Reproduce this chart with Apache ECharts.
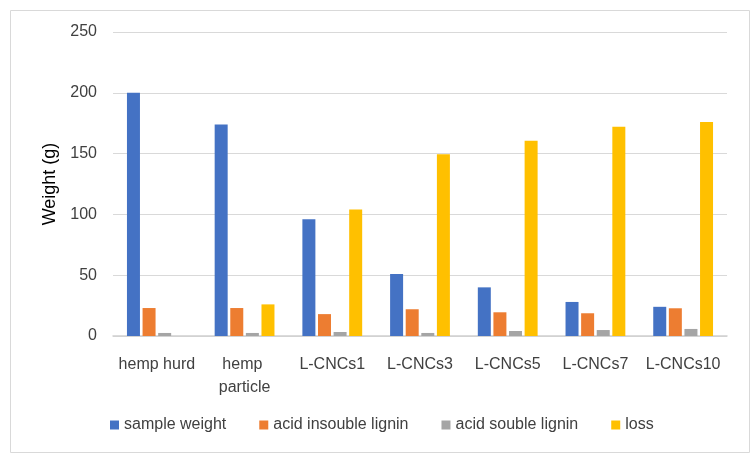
<!DOCTYPE html>
<html><head><meta charset="utf-8">
<script src="https://cdn.jsdelivr.net/npm/echarts@6/dist/echarts.min.js"></script>
<style>html,body{margin:0;padding:0;background:#fff}#c{width:756px;height:463px}</style>
</head><body><div id="c"></div>
<script>
const categories = ['hemp hurd','hemp particle','L-CNCs1','L-CNCs3','L-CNCs5','L-CNCs7','L-CNCs10'];
const seriesNames = ['sample weight','acid insouble lignin','acid souble lignin','loss'];
const sampleWeight = [200, 174, 96, 51, 40, 28, 24];
const acidInsoluble = [23, 23, 18, 22, 19.5, 18.7, 22.8];
const acidSoluble = [2.5, 2.5, 3.3, 2.5, 4.1, 4.9, 5.8];
const loss = [0, 26, 104, 149.5, 160.5, 172, 176];
const yTicks = [0, 50, 100, 150, 200, 250];
const colors = ['#4472C4','#ED7D31','#A5A5A5','#FFC000'];
const font = "'Liberation Sans',sans-serif";
const chart = echarts.init(document.getElementById('c'));
const dataSets = [sampleWeight, acidInsoluble, acidSoluble, loss];
chart.setOption({
  animation:false,
  color: colors,
  graphic:[{type:'rect',shape:{x:10.5,y:10.5,width:739,height:442},style:{fill:'none',stroke:'#D9D9D9',lineWidth:1}}],
  grid:{left:113,right:29,top:32,bottom:127},
  legend:{bottom:25,left:105,itemWidth:9,itemHeight:9,itemGap:33,icon:'rect',
    textStyle:{fontFamily:font,fontSize:16,color:'#404040'},data:seriesNames},
  xAxis:{type:'category',data:categories,
    axisLine:{lineStyle:{color:'#D0D0D0',width:1.5}},axisTick:{show:false},
    axisLabel:{fontFamily:font,fontSize:16,color:'#404040',margin:17,lineHeight:23,width:86,overflow:'break',interval:0}},
  yAxis:{type:'value',min:yTicks[0],max:yTicks[yTicks.length-1],interval:50,
    name:'Weight (g)',nameLocation:'middle',nameGap:51,
    nameTextStyle:{fontFamily:font,fontSize:18,color:'#000'},
    axisLine:{show:false},axisTick:{show:false},
    splitLine:{lineStyle:{color:'#D9D9D9',width:1}},
    axisLabel:{fontFamily:font,fontSize:16,color:'#404040',margin:16}},
  series: seriesNames.map((n,i)=>({name:n,type:'bar',data:dataSets[i],barWidth:13,barGap:'20%'}))
});
</script></body></html>
